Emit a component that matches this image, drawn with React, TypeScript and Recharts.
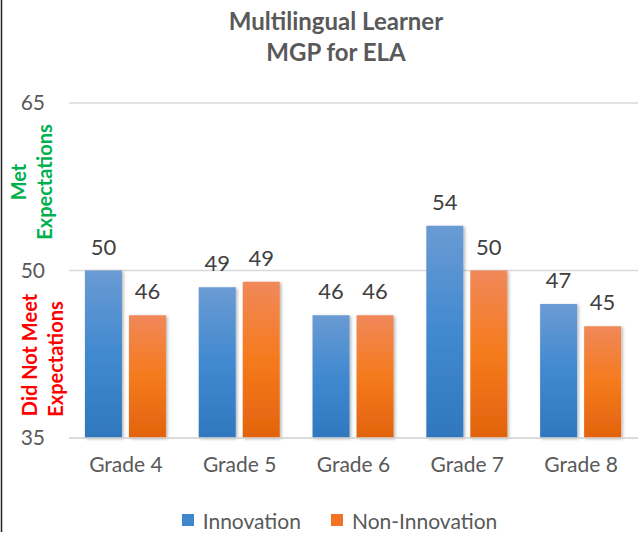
import React from 'react';
import { BarChart, Bar, XAxis, YAxis, CartesianGrid, Legend, LabelList } from 'recharts';

const categories = ['Grade 4', 'Grade 5', 'Grade 6', 'Grade 7', 'Grade 8'];
const innovation = [50, 48.5, 46, 54, 47];
const nonInnovation = [46, 49, 46, 50, 45];
const yTicks = [35, 50, 65];

const data = categories.map((c, i) => ({ name: c, innovation: innovation[i], nonInnovation: nonInnovation[i] }));

const FONT = 'Lato, "Noto Sans", sans-serif';

const YTick = (props: any) => {
  const { y, payload } = props;
  return (
    <text x={45} y={y} dy={7} textAnchor="end" fontFamily={FONT} fontSize={21} fill="#595959">
      {payload.value}
    </text>
  );
};

const LegendContent = (props: any) => {
  const { payload } = props;
  return (
    <div style={{ display: 'flex', justifyContent: 'center', alignItems: 'center', paddingLeft: 40, fontFamily: FONT, fontSize: 21, color: '#595959', height: 26 }}>
      {(payload || []).map((p: any, i: number) => (
        <div key={i} style={{ display: 'flex', alignItems: 'center', marginRight: i === 0 ? 30 : 0 }}>
          <div style={{ width: 12, height: 12, background: p.color === 'url(#gBlue)' ? '#3F86CC' : '#F07424', marginRight: 9 }} />
          <span>{p.value}</span>
        </div>
      ))}
    </div>
  );
};

export default function App() {
  return (
    <div style={{ position: 'absolute', left: 0, top: 0, width: 638, height: 533, background: '#fff', overflow: 'hidden' }}>
      <BarChart
        width={638}
        height={533}
        data={data}
        margin={{ top: 103, right: 0, bottom: 29, left: 1 }}
        barCategoryGap="14%"
        barGap={7}
      >
        <defs>
          <linearGradient id="gBlue" x1="0" y1="0" x2="0" y2="1">
            <stop offset="0%" stopColor="#6A9BD3" />
            <stop offset="50%" stopColor="#4189D0" />
            <stop offset="100%" stopColor="#2F77BE" />
          </linearGradient>
          <linearGradient id="gOrange" x1="0" y1="0" x2="0" y2="1">
            <stop offset="0%" stopColor="#F0885A" />
            <stop offset="50%" stopColor="#F57A1C" />
            <stop offset="100%" stopColor="#E2630E" />
          </linearGradient>
          <filter id="shadow" x="-20%" y="-5%" width="140%" height="110%">
            <feDropShadow dx="1.5" dy="1" stdDeviation="1.5" floodColor="#000" floodOpacity="0.3" />
          </filter>
        </defs>
        <CartesianGrid vertical={false} stroke="#D9D9D9" strokeWidth={1.5} />
        <XAxis
          dataKey="name"
          axisLine={{ stroke: '#D9D9D9', strokeWidth: 1.5 }}
          tickLine={false}
          height={40}
          tick={{ fontFamily: FONT, fontSize: 21, fill: '#595959' }}
          tickMargin={13}
        />
        <YAxis
          domain={[35, 65]}
          ticks={yTicks}
          width={68}
          axisLine={false}
          tickLine={false}
          tick={<YTick />}
        />
        <Legend
          verticalAlign="bottom"
          content={<LegendContent />}
          wrapperStyle={{ bottom: 0 }}
        />
        <Bar dataKey="innovation" name="Innovation" fill="url(#gBlue)" filter="url(#shadow)" isAnimationActive={false} legendType="square">
          <LabelList dataKey="innovation" position="top" offset={16} formatter={(v: any) => Math.round(v)} style={{ fontFamily: FONT, fontSize: 22, fill: '#404040' }} />
        </Bar>
        <Bar dataKey="nonInnovation" name="Non-Innovation" fill="url(#gOrange)" filter="url(#shadow)" isAnimationActive={false} legendType="square">
          <LabelList dataKey="nonInnovation" position="top" offset={16} formatter={(v: any) => Math.round(v)} style={{ fontFamily: FONT, fontSize: 22, fill: '#404040' }} />
        </Bar>
      </BarChart>
      <svg style={{ position: 'absolute', left: 0, top: 0, pointerEvents: 'none' }} width={638} height={533}>
        <line x1={1.5} y1={0} x2={1.5} y2={532} stroke="#222" strokeWidth={1.5} />
        <g fontFamily={FONT} fontWeight={700} fontSize={24} textAnchor="middle" fill="#595959">
          <text x={336} y={30}>Multilingual Learner</text>
          <text x={336} y={61}>MGP for ELA</text>
        </g>
        <g fontFamily={FONT} fontWeight={700} fontSize={20} textAnchor="middle">
          <text transform="translate(26,182) rotate(-90)" fill="#00B050">Met</text>
          <text transform="translate(52,182) rotate(-90)" fill="#00B050">Expectations</text>
          <text transform="translate(37,355) rotate(-90)" fill="#FF0000">Did Not Meet</text>
          <text transform="translate(63,359) rotate(-90)" fill="#FF0000">Expectations</text>
        </g>
      </svg>
    </div>
  );
}
